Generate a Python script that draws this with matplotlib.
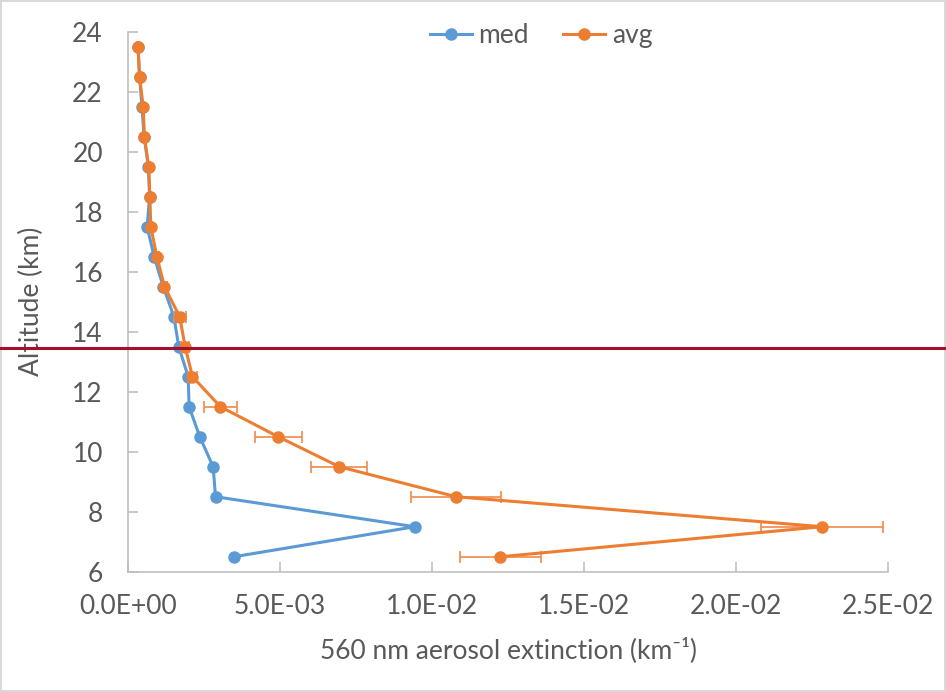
import matplotlib.pyplot as plt
from matplotlib.ticker import FuncFormatter, MultipleLocator

plt.rcParams['font.family'] = ['Lato', 'DejaVu Sans']

# altitude levels (km)
alt = [23.5, 22.5, 21.5, 20.5, 19.5, 18.5, 17.5, 16.5, 15.5, 14.5,
       13.5, 12.5, 11.5, 10.5, 9.5, 8.5, 7.5, 6.5]

# 560 nm extinction (km-1)
med = [3.3e-4, 3.8e-4, 4.6e-4, 5.3e-4, 6.7e-4, 7.1e-4, 6.3e-4, 8.6e-4, 1.16e-3, 1.51e-3,
       1.67e-3, 1.98e-3, 2.01e-3, 2.36e-3, 2.80e-3, 2.88e-3, 9.43e-3, 3.49e-3]
avg = [3.3e-4, 3.8e-4, 5.0e-4, 5.4e-4, 6.8e-4, 7.2e-4, 7.5e-4, 9.5e-4, 1.2e-3, 1.7e-3,
       1.88e-3, 2.12e-3, 3.04e-3, 4.94e-3, 6.95e-3, 1.079e-2, 2.283e-2, 1.225e-2]
avg_err = [2e-5, 2e-5, 3e-5, 3e-5, 4e-5, 4e-5, 5e-5, 6e-5, 8e-5, 2.0e-4,
           1.2e-4, 1.5e-4, 5.3e-4, 7.7e-4, 9.2e-4, 1.47e-3, 2.0e-3, 1.33e-3]

tropopause = 13.45

blue = '#5B9BD5'
orange = '#ED7D31'
grey = '#595959'

fig = plt.figure(figsize=(9.46, 6.92), dpi=100)
fig.patch.set_edgecolor('#D9D9D9')
fig.patch.set_linewidth(1.5)
ax = fig.add_axes([0.1353, 0.1738, 0.8034, 0.7804])

ax.plot(med, alt, color=blue, lw=2.2, marker='o', ms=8, label='med', zorder=3)
ax.errorbar(avg, alt, xerr=avg_err, fmt='none', ecolor='#F08A4B', elinewidth=1.2,
            capsize=4, capthick=1.2, zorder=4)
ax.plot(avg, alt, color=orange, lw=2.2, marker='o', ms=8, label='avg', zorder=4)

ax.axhline(tropopause, xmin=-0.17, xmax=1.08, color='#A50F2D', lw=2.2,
           clip_on=False, zorder=5)

ax.set_xlim(0, 0.025)
ax.set_ylim(6, 24)
ax.xaxis.set_major_locator(MultipleLocator(0.005))
ax.yaxis.set_major_locator(MultipleLocator(2))
ax.xaxis.set_major_formatter(FuncFormatter(lambda v, p: f"{v:.1E}"))

for s in ['top', 'right']:
    ax.spines[s].set_visible(False)
for s in ['left', 'bottom']:
    ax.spines[s].set_color('#BFBFBF')
    ax.spines[s].set_linewidth(1.2)
ax.tick_params(direction='in', length=7, width=1.2, color='#BFBFBF',
               labelcolor=grey, labelsize=19)
ax.tick_params(axis='x', pad=16)
ax.tick_params(axis='y', pad=18)

ax.set_xlabel('560 nm aerosol extinction (km⁻¹)', fontsize=19, color=grey, labelpad=13)
ax.set_ylabel('Altitude (km)', fontsize=19, color=grey, labelpad=20)

ax.legend(loc='center', bbox_to_anchor=(0.572, 0.949), bbox_transform=fig.transFigure,
          ncol=2, frameon=False, fontsize=19, labelcolor=grey,
          handlelength=1.6, columnspacing=1.3, handletextpad=0.25)

fig.savefig('out.png', dpi=100)
